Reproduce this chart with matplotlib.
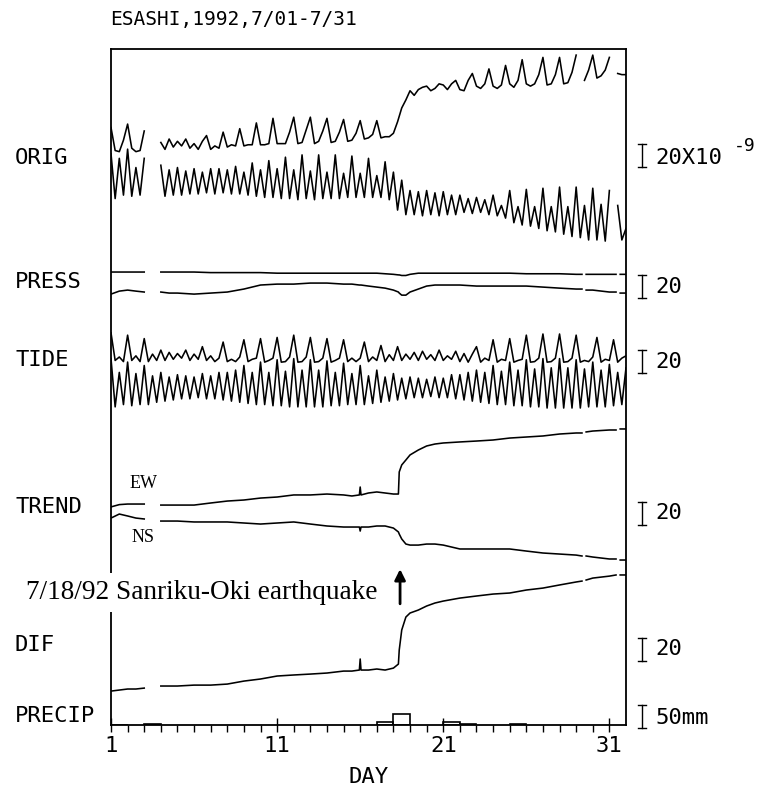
import numpy as np
import matplotlib
matplotlib.use("Agg")
import matplotlib.pyplot as plt
import matplotlib.transforms as mtransforms

nan = np.nan

# strain in 10^-9 (pressure in hPa), relative to each trace's own level
# tidal-band records: one value every 6 h, day 1.00 ... 32.00
osc_days = np.arange(1, 32.01, 0.25)

orig_ew = [
    11, -9, -10, 0,   14, -7, -10, -9,   8, nan, nan, nan,   -2, -8, 1, -6,
    -1, -5, 1, -7,    -3, -8, -1, 4,     -8, -5, -7, 7,      -6, -4, -5, 10,
    -5, -4, -4, 15,   -4, -4, -3, 19,    -3, -3, -3, 7,      20, -3, -2, 9,
    20, -3, -1, 8,    19, -2, -1, 7,     18, -1, 0, 6,       17, 1, 2, 5,
    17, 2, 3, 3,      6, 16, 28, 35,     43, 39, 44, 46,     47, 43, 45, 49,
    48, 44, 49, 52,   44, 43, 52, 58,    47, 45, 49, 62,     47, 45, 48, 65,
    49, 46, 52, 70,   49, 47, 49, 57,    72, 48, 49, 57,     72, 49, 50, 59,
    74, nan, 52, 61,  74, 54, 56, 61,    72, nan, 58, 57,    57,
]
orig_ns = [
    23, -16, 19, -13,  27, -14, 11, -13,  19, nan, nan, nan,  13, -14, 9, -13,
    11, -13, 8, -12,   10, -12, 7, -11,   10, -12, 10, -11,   9, -12, 12, -12,
    7, -13, 15, -14,   9, -15, 17, -15,   10, -16, 20, -16,   9, -17, 22, -16,
    8, -17, 22, -16,   7, -16, 22, -16,   6, -15, 21, -15,    6, -15, 19, -15,
    4, -15, 16, -17,   7, -26, 0, -30,    -9, -30, -10, -31,  -9, -30, -11, -31,
    -10, -30, -13, -30, -13, -28, -16, -29, -15, -28, -17, -30, -13, -31, -22, -33,
    -9, -37, -23, -39, -8, -40, -23, -42, -7, -44, -23, -45,  -6, -47, -23, -49,
    -6, -50, -22, -52, -7, -52, -21, -53, -9, nan, -22, -52,  -42,
]
tide_ew = [
    15, -9, -6, -10,   13, -9, -5, -10,   10, -10, -3.5, -9,  0, -9, -2, -8,
    -3, -7, 0, -9,     -3.5, -8, 3, -9,   -5, -10, -7, 7,     -10, -8, -10, -6,
    9, -10, -8, -7,    10, -10.5, -9, -7, 11, -10.5, -10, -6, 13, -10.5, -10, -6,
    11, -10.5, -10, -7, 10, -10.5, -9, -7, 9, -10, -7, -10,   -7, 7, -10, -6,
    -9, 4, -10, -4,    -9, 3, -9, -3.5,   -8, -2, -9, -1,     -8, -4, -9, 0,
    -9, -5, -8, -1,    -10, -3, -10.5, -3.5, 3, -10.5, -7, -9, 9, -10.5, -8, -9,
    10, -10.5, -9, -8, 13, -10.5, -10, -7, 14, -10.5, -10, -7, 14, -10.5, -10, -7,
    13, -10.5, -9, -10, -6, 11, -10.5, -8, -9, 9, -10.5, -7,  -5,
]
tide_ns = [
    23, -19, 11, -17,  20, -18, 10, -17,  17, -17, 8, -15,   11, -14, 7, -13,
    9, -12, 8, -12,    7, -11, 10, -12,   8, -12, 11, -13,   11, -14, 13, -15,
    17, -16, 11, -17,  20, -17, 11, -18,  22, -18, 12, -19,  23, -19, 13, -19,
    22, -19, 13, -19,  21, -18, 11, -18,  19, -17, 10, -17,  17, -17, 8, -16,
    13, -15, 7, -14,   10, -13, 6, -12,   7, -11, 6, -11,    5, -10, 7, -11,
    6, -11, 9, -12,    9, -13, 11, -14,   13, -15, 11, -16,  17, -17, 12, -17,
    20, -18, 13, -18,  22, -19, 14, -19,  23, -20, 15, -20,  23, -20, 15, -20,
    22, -20, 14, -19,  20, -19, 13, -19,  18, -18, 11, -17,  15,
]

# slow records, read at irregular times (denser around the earthquake)
slow_days = [1, 1.5, 2, 2.5, 3, 3.5, 4, 4.5, 5, 6, 7, 8, 9, 10, 11, 12, 13, 14, 15,
             15.5, 15.95, 16.0, 16.05, 16.5, 17, 17.5, 18.0, 18.3, 18.35, 18.5, 18.75,
             19, 19.5, 20, 20.5, 21, 22, 23, 24, 25, 26, 27, 28, 29, 29.35, 29.4, 29.6,
             30, 31, 31.4, 31.45, 31.65, 32]
press_a = [1, 1, 1, 1, 1, nan, 1, 1, 1, 1, 0.5, 0.5, 0.5, 0.5, 0, 0, 0, 0, 0,
           0, 0, 0, 0, 0, 0, -0.5, -1, -1.5, -1.5, -2, -2,
           -1, 0, 0, 0, 0, 0, 0, 0, 0, -0.5, -0.5, -0.5, -1, -1, nan, -1,
           -1, -1, -1, nan, -1, -1]
press_b = [-3.5, -0.9, 0, -0.9, -1.7, nan, -1.7, -2.6, -2.6, -3.5, -2.6, -1.7, 0.9, 4.4, 5.2, 5.2, 6.1, 6.1, 5.2,
           5.2, 4.4, 4.4, 4.4, 3.5, 2.6, 1.7, 0, -1.7, -2.6, -4.4, -4.4,
           -1.7, 0.9, 3.5, 4.4, 4.4, 4.4, 3.5, 3.5, 3.5, 3.5, 2.6, 1.7, 0.9, 0.9, nan, 0,
           0, -1.7, -1.7, nan, -2.6, -2.6]
trend_ew = [-6, -4, -3.5, -3.5, -3.5, nan, -4.4, -4.4, -4.4, -4.4, -2.6, -0.9, 0, 1.7, 2.6, 4.4, 4.4, 5.2, 4.4,
            3.5, 4.4, 11.3, 4.4, 6.1, 7.0, 6.1, 5.2, 5.2, 24.4, 30.5, 34.8,
            39.2, 43.5, 47.0, 48.7, 49.6, 50.5, 51.3, 52.2, 53.9, 54.8, 55.7, 57.4, 58.3, 58.3, nan, 59.2,
            60.0, 60.9, 60.9, nan, 61.8, 61.8]
trend_ns = [1.7, 5.2, 3.5, 1.7, 0.9, nan, -0.9, -0.9, -0.9, -1.7, -1.7, -1.7, -2.6, -3.5, -2.6, -1.7, -3.5, -5.2, -6.1,
            -6.1, -6.1, -9.6, -6.1, -6.1, -5.2, -5.2, -7.0, -10.4, -12.2, -16.5, -20.9,
            -21.8, -21.8, -20.9, -20.9, -21.8, -25.2, -25.2, -25.2, -25.2, -27.0, -28.7, -29.6, -30.5, -31.3, nan, -31.3,
            -32.2, -33.9, -33.9, nan, -34.8, -34.8]
dif = [-9.6, -8.7, -7.8, -7.8, -7.0, nan, -5.2, -5.2, -5.2, -4.4, -4.4, -3.5, -0.9, 0.9, 3.5, 4.4, 5.2, 6.1, 7.8,
       7.8, 8.7, 18.3, 8.7, 8.7, 9.6, 8.7, 10.4, 13.9, 26.1, 43.5, 54.8,
       58.3, 60.9, 64.4, 67.0, 68.7, 71.3, 73.1, 74.8, 75.7, 78.3, 80.0, 82.7, 85.3, 86.1, nan, 87.0,
       88.7, 90.4, 91.4, nan, 91.4, 91.4]

# daily precipitation (mm), bar starts on the given day
precip_days = [1, 3, 17, 18, 21, 22, 25]
precip_mm = [1, 2, 6, 24, 6, 3, 2]

plt.rcParams['font.family'] = ['DejaVu Sans Mono']

fig = plt.figure(figsize=(7.59, 7.87), dpi=100)
ax = fig.add_axes([111 / 759, 1 - 725 / 787, 515 / 759, 676 / 787])
ax.set_xlim(1, 32)
ax.set_ylim(0, 588)

# vertical placement of each trace (same units as the data)
traces = [
    (osc_days, orig_ew, 508.7),
    (osc_days, orig_ns, 473.9),
    (slow_days, press_a, 393.0),
    (slow_days, press_b, 378.3),
    (osc_days, tide_ew, 326.1),
    (osc_days, tide_ns, 295.7),
    (slow_days, trend_ew, 195.7),
    (slow_days, trend_ns, 178.3),
    (slow_days, dif, 39.1),
]
for days, vals, base in traces:
    ax.plot(days, base + np.array(vals, dtype=float), color="k", lw=1.15,
            solid_joinstyle="round")

axp = ax.twinx()
axp.set_ylim(0, 588 * 2.5)
axp.axis("off")
axp.bar(precip_days, precip_mm, width=1, align="edge", fill=False,
        edgecolor="k", lw=1.2)

for s in ax.spines.values():
    s.set_linewidth(1.3)
ax.set_yticks([])
ax.set_xticks([1, 11, 21, 31])
ax.set_xticks(range(1, 32), minor=True)
ax.tick_params(axis="x", which="major", direction="inout", length=10, width=1,
               pad=3, labelsize=16)
ax.tick_params(axis="x", which="minor", direction="out", length=5, width=1)
ax.set_xlabel("DAY", fontsize=16, labelpad=8)

fig.text(110 / 759, 1 - 20 / 787, "ESASHI,1992,7/01-7/31", fontsize=14,
         ha="left", va="center")

for name, ypx in [("ORIG", 158), ("PRESS", 282), ("TIDE", 360),
                  ("TREND", 507), ("DIF", 645), ("PRECIP", 716)]:
    fig.text(15 / 759, 1 - ypx / 787, name, fontsize=16, ha="left", va="center")

# scale bars: 20 x 10^-9 (or hPa) and 50 mm
trans = mtransforms.blended_transform_factory(ax.transAxes, ax.transData)
trans_p = mtransforms.blended_transform_factory(axp.transAxes, axp.transData)
xb, sw = 1.031, 0.007
for tr, c, h in [(trans, 495, 20), (trans, 381, 20), (trans, 316, 20),
                 (trans, 184, 20), (trans, 66, 20), (trans_p, 19, 50)]:
    ax.plot([xb, xb], [c - h / 2, c + h / 2], transform=tr, color="k", lw=1, clip_on=False)
    for yy in (c - h / 2, c + h / 2):
        ax.plot([xb - sw, xb + sw], [yy, yy], transform=tr, color="k", lw=1, clip_on=False)

for txt, ypx in [("20X10", 158), ("20", 287), ("20", 362), ("20", 513),
                 ("20", 649), ("50mm", 718)]:
    fig.text(655 / 759, 1 - ypx / 787, txt, fontsize=16, ha="left", va="center")
fig.text(734 / 759, 1 - 146 / 787, "-9", fontsize=13, ha="left", va="center")

ax.text(2.95, 210, "EW", family="Liberation Serif", fontsize=13, ha="center", va="center")
ax.text(2.95, 163, "NS", family="Liberation Serif", fontsize=13, ha="center", va="center")

ax.text(17.05, 115, "7/18/92 Sanriku-Oki earthquake", family="Liberation Serif",
        fontsize=19.6, ha="right", va="center", zorder=3,
        bbox=dict(facecolor="white", edgecolor="none", pad=5))
ax.annotate("", xy=(18.4, 138), xytext=(18.4, 103),
            arrowprops=dict(arrowstyle="-|>", color="k", lw=2, mutation_scale=16))

fig.savefig("out.png", dpi=100)
